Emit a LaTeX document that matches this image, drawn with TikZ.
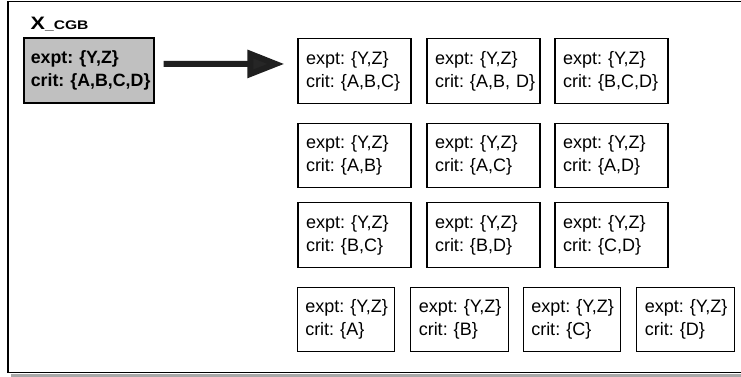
\documentclass[tikz,border=0pt]{standalone}
\usepackage{fontspec}
\usepackage{graphicx}
\setmainfont{Liberation Sans}
\usetikzlibrary{arrows.meta}
\definecolor{boxgray}{HTML}{C0C0C0}
\definecolor{shadowgray}{HTML}{A8A8A8}
\newcommand{\twoln}[2]{\mbox{#1}\\\mbox{#2}}
\tikzset{
  combo/.style={draw=black, line width=1.3pt, fill=white, rectangle,
    minimum height=64.5pt, inner xsep=8pt, inner ysep=0pt,
    text width=#1, align=left,
    font=\fontsize{18}{23}\selectfont,
    execute at begin node=\frenchspacing},
  srcbox/.style={draw=black, line width=1.6pt, fill=boxgray, rectangle,
    minimum width=130pt, minimum height=65pt, inner xsep=7pt, inner ysep=0pt,
    text width=116pt, align=left,
    font=\bfseries\fontsize{17.8}{23}\selectfont,
    execute at begin node=\frenchspacing},
  bigarrow/.style={draw=black!88, line width=6pt,
    -{Triangle[length=37pt,width=27pt,fill=black!85]}}
}
\begin{document}
\begin{tikzpicture}[x=1pt,y=-1pt]
\useasboundingbox (0,0) rectangle (741,377);
\fill[white] (0,0) rectangle (741,377);
% outer frame with shadow
\fill[shadowgray] (11,373.5) rectangle (745,377);
\draw[line width=1.6pt] (8,372.5) -- (8,1.5) -- (745,1.5);
\draw[line width=1.6pt] (8,372.5) -- (745,372.5);
% title
\node[anchor=base west, inner sep=0pt, font=\bfseries] (title) at (30.5,30)
  {\scalebox{1.2}[1]{\fontsize{18}{20}\selectfont X}\scalebox{1.25}[1]{\fontsize{12.5}{14}\selectfont\_CGB}};
% source box
\node[srcbox] (src) at (88.8,70.8) {\twoln{expt: \{Y,Z\}}{crit: \{A,B,C,D\}}};
% rows 1-3
\node[combo=97pt] (b1) at (354.5,71) {\twoln{expt: \{Y,Z\}}{crit: \{A,B,C\}}};
\node[combo=97pt] (b2) at (483.5,71) {\twoln{expt: \{Y,Z\}}{crit: \{A,B, D\}}};
\node[combo=97pt] (b3) at (611.5,71) {\twoln{expt: \{Y,Z\}}{crit: \{B,C,D\}}};
\node[combo=97pt] (b4) at (354.5,155.5) {\twoln{expt: \{Y,Z\}}{crit: \{A,B\}}};
\node[combo=97pt] (b5) at (483.5,155.5) {\twoln{expt: \{Y,Z\}}{crit: \{A,C\}}};
\node[combo=97pt] (b6) at (611.5,155.5) {\twoln{expt: \{Y,Z\}}{crit: \{A,D\}}};
\node[combo=97pt] (b7) at (354.5,235) {\twoln{expt: \{Y,Z\}}{crit: \{B,C\}}};
\node[combo=97pt] (b8) at (483.5,235) {\twoln{expt: \{Y,Z\}}{crit: \{B,D\}}};
\node[combo=97pt] (b9) at (611.5,235) {\twoln{expt: \{Y,Z\}}{crit: \{C,D\}}};
% row 4
\node[combo=81.5pt] (c1) at (346,319.5) {\twoln{expt: \{Y,Z\}}{crit: \{A\}}};
\node[combo=81.5pt] (c2) at (459.5,319.5) {\twoln{expt: \{Y,Z\}}{crit: \{B\}}};
\node[combo=81.5pt] (c3) at (572,319.5) {\twoln{expt: \{Y,Z\}}{crit: \{C\}}};
\node[combo=81.5pt] (c4) at (685.5,319.5) {\twoln{expt: \{Y,Z\}}{crit: \{D\}}};
% arrow
\draw[bigarrow, shorten <=9pt, shorten >=13pt] ([yshift=7pt]src.east) -- ([yshift=7pt]b1.west);
\end{tikzpicture}
\end{document}
